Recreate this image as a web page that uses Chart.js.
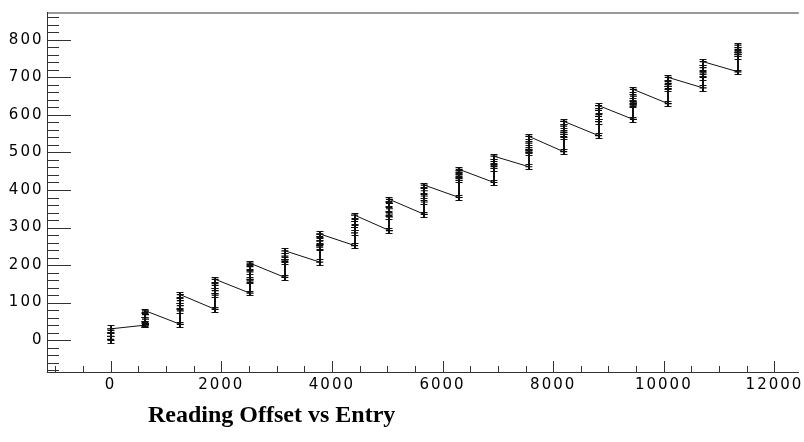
<!DOCTYPE html>
<html>
<head>
<meta charset="utf-8">
<title>Reading Offset vs Entry</title>
<script src="https://cdn.jsdelivr.net/npm/chart.js@4.4.1/dist/chart.umd.min.js"></script>
<style>
    html, body { margin: 0; padding: 0; background: #fff; overflow: hidden; }
    #wrap { position: relative; width: 804px; height: 442px; }
    #title { position: absolute; left: 148px; top: 401px; font: bold 24px "Liberation Serif", "Times New Roman", serif; color: #000; white-space: nowrap; }
</style>
</head>
<body>
<div id="wrap">
    <canvas id="offsetChart" width="804" height="442"></canvas>
    <div id="title">Reading Offset vs Entry</div>
</div>
<script>
// entry at which each column of readings was taken
const entries = [0, 630, 1260, 1890, 2520, 3150, 3780, 4410, 5040, 5670, 6300, 6930, 7560, 8190, 8820, 9450, 10080, 10710, 11340];
// reading offsets in each column, bottom to top
const offsets = [
    [2, 10, 19, 30],
    [40, 42, 44, 56, 68, 78],
    [42, 78, 92, 105, 121],
    [82, 120, 132, 146, 162],
    [125, 158, 162, 182, 196, 205],
    [167, 210, 214, 224, 238],
    [208, 248, 252, 264, 276, 283],
    [252, 286, 300, 316, 333],
    [292, 328, 336, 350, 364, 375],
    [335, 368, 384, 398, 413],
    [380, 426, 432, 440, 448, 455],
    [420, 458, 466, 476, 490],
    [462, 500, 504, 508, 525, 543],
    [502, 542, 548, 554, 570, 583],
    [545, 582, 596, 612, 625],
    [588, 626, 630, 634, 650, 668],
    [630, 670, 676, 684, 700],
    [672, 700, 712, 726, 742],
    [715, 756, 762, 768, 775, 786]
];
// error on the offsets of each column
const offsetErrors = [9, 6, 6, 6, 6, 7, 8, 7, 6, 6, 6, 7, 6, 6, 6, 6, 7, 8, 6];

// axis labels
const xTickLabels = [0, 2000, 4000, 6000, 8000, 10000, 12000];
const yTickLabels = [0, 100, 200, 300, 400, 500, 600, 700, 800];

const xRange = [-1150, 12440];
const yRange = [-85, 873];

const points = [];
entries.forEach((e, i) => {
    offsets[i].forEach(v => points.push({ x: e, y: v }));
});

const tickFont = { family: '"DejaVu Sans", sans-serif', size: 15 };

// ROOT style frame: ticks drawn inside the pad, error bars with caps
const rootFrame = {
    id: 'rootFrame',
    beforeDraw(chart) {
        chart.ctx.letterSpacing = '2px';
    },
    afterDatasetsDraw(chart) {
        const { ctx, scales: { x, y } } = chart;
        ctx.save();
        ctx.strokeStyle = '#111';
        entries.forEach((e, i) => {
            const px = Math.round(x.getPixelForValue(e));
            const col = offsets[i];
            const err = offsetErrors[i];
            // error bars of one column overlap into one vertical bar
            ctx.lineWidth = 2;
            ctx.beginPath();
            ctx.moveTo(px, Math.round(y.getPixelForValue(Math.max(...col) + err)) + 0.5);
            ctx.lineTo(px, Math.round(y.getPixelForValue(Math.min(...col) - err)) + 0.5);
            ctx.stroke();
            ctx.lineWidth = 1;
            ctx.beginPath();
            col.forEach(v => {
                const top = Math.round(y.getPixelForValue(v + err)) + 0.5;
                const bot = Math.round(y.getPixelForValue(v - err)) + 0.5;
                ctx.moveTo(px - 3.5, top);
                ctx.lineTo(px + 3.5, top);
                ctx.moveTo(px - 3.5, bot);
                ctx.lineTo(px + 3.5, bot);
            });
            ctx.stroke();
        });
        ctx.restore();
    },
    afterDraw(chart) {
        const { ctx, chartArea: a, scales: { x, y } } = chart;
        ctx.save();
        ctx.strokeStyle = '#333';
        ctx.lineWidth = 1;
        ctx.beginPath();
        ctx.moveTo(a.left, a.top + 0.5);
        ctx.lineTo(a.right, a.top + 0.5);
        for (let v = Math.ceil(x.min / 500) * 500; v <= x.max; v += 500) {
            const px = Math.round(x.getPixelForValue(v)) + 0.5;
            const len = v % 2000 === 0 ? 11 : 6;
            ctx.moveTo(px, a.bottom);
            ctx.lineTo(px, a.bottom - len);
        }
        for (let v = Math.ceil(y.min / 20) * 20; v <= y.max; v += 20) {
            const py = Math.round(y.getPixelForValue(v)) + 0.5;
            const len = v % 100 === 0 ? 24 : 12;
            ctx.moveTo(a.left, py);
            ctx.lineTo(a.left + len, py);
        }
        ctx.stroke();
        ctx.restore();
    }
};

new Chart(document.getElementById('offsetChart').getContext('2d'), {
    type: 'scatter',
    data: {
        datasets: [{
            label: 'Reading Offset',
            data: points,
            showLine: true,
            borderColor: '#111',
            backgroundColor: '#111',
            borderWidth: 1,
            pointStyle: 'line',
            pointRadius: 3.5,
            pointBorderWidth: 1.2,
            pointBorderColor: '#000'
        }]
    },
    options: {
        responsive: false,
        animation: false,
        devicePixelRatio: 1,
        layout: { padding: { top: 10, right: 0, left: 0, bottom: 0 } },
        plugins: {
            legend: { display: false },
            tooltip: { enabled: false },
            title: { display: false }
        },
        scales: {
            x: {
                type: 'linear',
                min: xRange[0],
                max: xRange[1],
                grid: { display: false, drawTicks: false },
                border: { display: true, color: '#333', width: 1 },
                ticks: {
                    color: '#000', font: tickFont, padding: 4, maxRotation: 0, autoSkip: false,
                    callback: v => String(v)
                },
                afterBuildTicks(scale) {
                    scale.ticks = xTickLabels.map(v => ({ value: v }));
                },
                afterFit(scale) {
                    scale.height = 70;
                    scale.paddingLeft = 0;
                    scale.paddingRight = 0;
                }
            },
            y: {
                type: 'linear',
                min: yRange[0],
                max: yRange[1],
                grid: { display: false, drawTicks: false },
                border: { display: true, color: '#333', width: 1 },
                ticks: {
                    color: '#000', font: tickFont, padding: 3.5, autoSkip: false,
                    callback: v => String(v)
                },
                afterBuildTicks(scale) {
                    scale.ticks = yTickLabels.map(v => ({ value: v }));
                },
                afterFit(scale) {
                    scale.width = 47;
                }
            }
        }
    },
    plugins: [rootFrame]
});
</script>
</body>
</html>
